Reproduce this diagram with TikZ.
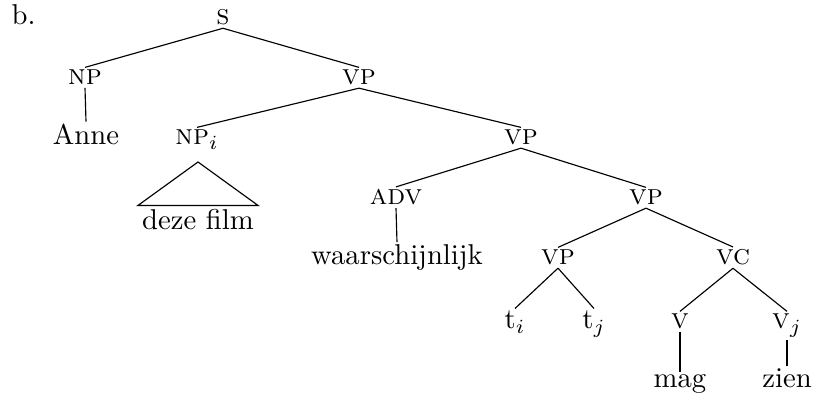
\documentclass[tikz,border=0pt]{standalone}
\usepackage{tikz}
\tikzset{
  cat/.style={anchor=base,inner sep=0.8pt},
  word/.style={anchor=base,inner sep=0.8pt},
  branch/.style={line width=0.4pt}
}

\begin{document}
\begin{tikzpicture}[x=0.01225cm,y=-0.01225cm]
\useasboundingbox (0,0) rectangle (813,394);

% Example number
\node[anchor=base west,inner sep=0pt] (exnum) at (11,25) {b.};

% Categories, one row per level
\node[cat] (S)   at (223,25)  {\textsc{s}};
\node[cat] (NP)  at (85,85)   {\textsc{np}};
\node[cat] (VP1) at (359,85)  {\textsc{vp}};
\node[cat] (NPi) at (197,145) {\textsc{np}$_i$};
\node[cat] (VP2) at (521,145) {\textsc{vp}};
\node[cat] (ADV) at (396,205) {\textsc{adv}};
\node[cat] (VP3) at (646,205) {\textsc{vp}};
\node[cat] (VP4) at (558,265) {\textsc{vp}};
\node[cat] (VC)  at (733,265) {\textsc{vc}};
\node[cat] (V)   at (680,329) {\textsc{v}};
\node[cat] (Vj)  at (787,329) {\textsc{v}$_j$};

% Words and traces
\node[word] (anne) at (86,145)  {Anne};
\node[word,inner sep=1.3pt] (film) at (198,230) {deze film};
\node[word] (waar) at (397,265) {waarschijnlijk};
\node[word] (ti)   at (515,329) {t$_i$};
\node[word] (tj)   at (594,329) {t$_j$};
\node[word] (mag)  at (680,388) {mag};
\node[word] (zien) at (787,388) {zien};

% Branches
\foreach \p/\c in {S/NP,S/VP1,NP/anne,VP1/NPi,VP1/VP2,VP2/ADV,VP2/VP3,
  ADV/waar,VP3/VP4,VP3/VC,VP4/ti,VP4/tj,VC/V,VC/Vj,V/mag,Vj/zien}
{
  \draw[branch] (\p.south) -- (\c.north);
}

% Roof over the unanalysed NP
\coordinate (roof) at (198,162);
\draw[branch] (roof) -- (film.north west) -- (film.north east) -- cycle;

\end{tikzpicture}
\end{document}
